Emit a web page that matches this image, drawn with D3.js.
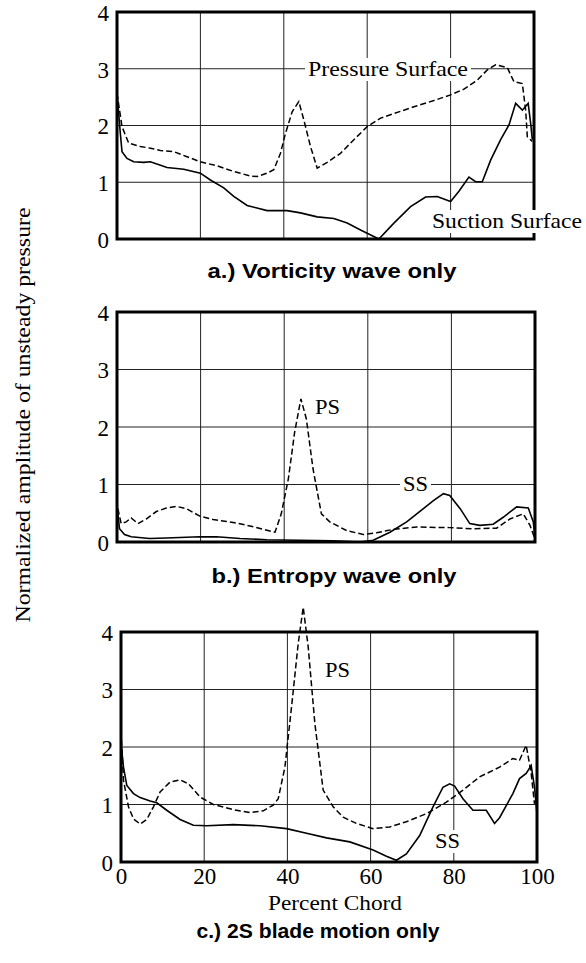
<!DOCTYPE html>
<html>
<head>
<meta charset="utf-8">
<script src="https://cdn.jsdelivr.net/npm/d3@7"></script>
<style>
  body { margin: 0; background: #fff; }
  svg { display: block; }
  .tick-label { font-family: "Liberation Serif", "Times New Roman", serif; font-size: 23px; fill: #000; }
  .serif { font-family: "Liberation Serif", "Times New Roman", serif; fill: #000; }
  .caption { font-family: "Liberation Sans", Arial, sans-serif; font-weight: bold; font-size: 21px; fill: #000; }
</style>
</head>
<body>
<script>
// tick labels
var yTicks = [0, 1, 2, 3, 4];
var xTicks = [0, 20, 40, 60, 80, 100];

// a.) vorticity wave - pressure surface (dashed)
var vortPS_x = [0, 1.2, 2.8, 5.6, 8, 10.4, 13.6, 16.8, 20, 24, 28, 32, 33.6, 36, 37.6, 39.2, 40.4, 42, 43.6, 44.8, 46.4, 48, 50.4, 53.6, 56.8, 60, 63.2, 66.4, 71.2, 76, 80, 83.2, 86.4, 88.8, 90.8, 93.6, 95.2, 97.2, 98, 98.4, 99.6];
var vortPS_y = [2.57, 1.98, 1.69, 1.63, 1.6, 1.56, 1.54, 1.45, 1.36, 1.29, 1.19, 1.11, 1.10, 1.16, 1.22, 1.51, 1.86, 2.24, 2.42, 2.10, 1.63, 1.25, 1.35, 1.51, 1.75, 1.98, 2.13, 2.21, 2.33, 2.44, 2.54, 2.64, 2.80, 2.98, 3.07, 3.02, 2.77, 2.74, 2.27, 1.80, 1.72];
// a.) vorticity wave - suction surface (solid)
var vortSS_x = [0, 0.8, 1.2, 2.4, 4, 6.4, 8, 12, 16, 20, 22.4, 25.6, 28, 31.2, 36, 40.8, 44, 48, 52, 55.2, 58.4, 62.8, 66.4, 70.4, 74, 76.8, 80, 82, 84.4, 86, 87.6, 89.6, 92, 94, 95.6, 97.2, 98.6, 99.2, 99.6];
var vortSS_y = [2.57, 1.86, 1.54, 1.42, 1.36, 1.35, 1.36, 1.26, 1.23, 1.16, 1.04, 0.90, 0.75, 0.59, 0.50, 0.50, 0.46, 0.39, 0.36, 0.28, 0.16, 0.0, 0.28, 0.57, 0.74, 0.75, 0.66, 0.84, 1.09, 1.01, 1.01, 1.39, 1.75, 2.01, 2.39, 2.27, 2.39, 2.04, 1.75];

// b.) entropy wave - PS (dashed)
var entPS_x = [0.2, 1, 2.2, 3.4, 5, 7, 9.4, 11.8, 14.2, 16.6, 19.8, 23, 27.8, 31.8, 35, 37.8, 39.3, 41, 42.5, 44, 45.3, 46.9, 48.9, 50.9, 54.9, 58.9, 62.1, 66.1, 71.7, 79.6, 85.2, 90.8, 94, 97.2, 98.8, 99.8];
var entPS_y = [0.58, 0.32, 0.35, 0.42, 0.32, 0.40, 0.53, 0.59, 0.62, 0.58, 0.45, 0.39, 0.34, 0.28, 0.22, 0.17, 0.49, 1.10, 1.91, 2.49, 2.14, 1.27, 0.49, 0.35, 0.20, 0.13, 0.16, 0.22, 0.26, 0.25, 0.23, 0.24, 0.40, 0.49, 0.29, 0.09];
// b.) entropy wave - SS (solid)
var entSS_x = [0, 0.6, 1.8, 3.4, 7.8, 11.8, 19.8, 23.8, 29.4, 35.8, 43.7, 51.7, 58.1, 61.3, 65.3, 69.3, 73.3, 75.7, 78.1, 79.6, 82.1, 84.4, 86.8, 90, 92.4, 95.6, 98.4, 99.6, 100];
var entSS_y = [0.64, 0.23, 0.13, 0.09, 0.06, 0.07, 0.09, 0.09, 0.06, 0.04, 0.03, 0.02, 0.0, 0.03, 0.17, 0.35, 0.58, 0.72, 0.84, 0.81, 0.58, 0.32, 0.29, 0.31, 0.43, 0.61, 0.59, 0.35, 0.06];

// c.) 2S blade motion - PS (dashed)
var bladePS_x = [0.1, 0.6, 1.8, 3, 4.6, 6.2, 7.8, 9.4, 11.8, 14.2, 16.2, 19, 22.2, 27, 31, 34.2, 36.6, 37.8, 39.4, 41, 42.6, 43.8, 45, 46.6, 48.6, 51, 53.4, 56.6, 60.6, 64.6, 68.6, 73.4, 78.2, 82.2, 86.2, 91, 94.2, 95.8, 97.4, 98.6, 99.4];
var bladePS_y = [2.12, 1.42, 0.96, 0.75, 0.66, 0.74, 0.96, 1.22, 1.39, 1.43, 1.36, 1.13, 1.00, 0.91, 0.86, 0.89, 0.99, 1.10, 1.65, 2.70, 3.80, 4.43, 3.74, 2.41, 1.25, 0.96, 0.78, 0.67, 0.58, 0.61, 0.70, 0.84, 1.04, 1.25, 1.48, 1.65, 1.80, 1.77, 2.03, 1.54, 1.01];
// c.) 2S blade motion - SS (solid)
var bladeSS_x = [0.1, 0.6, 1.4, 3, 4.6, 7, 8.6, 11, 14.2, 17.4, 20.6, 27, 33.4, 39.8, 44.6, 49.4, 55, 60.6, 63.8, 66.2, 68.6, 71.8, 75, 77.4, 79, 80.2, 82.2, 84.6, 87.8, 89.8, 91, 94.2, 95.8, 97.4, 98.6, 99.4, 100];
var bladeSS_y = [2.0, 1.65, 1.33, 1.19, 1.12, 1.06, 1.03, 0.90, 0.74, 0.64, 0.63, 0.65, 0.63, 0.58, 0.50, 0.42, 0.35, 0.21, 0.10, 0.03, 0.14, 0.46, 0.96, 1.30, 1.36, 1.32, 1.10, 0.90, 0.90, 0.67, 0.77, 1.19, 1.45, 1.54, 1.68, 1.30, 0.84];

var svgWidth = 586, svgHeight = 963;
var svg = d3.select('body').append('svg').attr('width', svgWidth).attr('height', svgHeight);

// panel boxes (pixel frames)
var panels = [
  {left: 117, right: 534, top: 12, bottom: 239,
   ps: [vortPS_x, vortPS_y], ss: [vortSS_x, vortSS_y]},
  {left: 117, right: 535, top: 312, bottom: 542,
   ps: [entPS_x, entPS_y], ss: [entSS_x, entSS_y]},
  {left: 121, right: 537, top: 632, bottom: 862,
   ps: [bladePS_x, bladePS_y], ss: [bladeSS_x, bladeSS_y]}
];

function zip(xs, ys) { return xs.map((x, i) => [x, ys[i]]); }

panels.forEach((p, i) => {
  var xScale = d3.scaleLinear().domain([0, 100]).range([p.left, p.right]);
  var yScale = d3.scaleLinear().domain([0, 4]).range([p.bottom, p.top]);
  p.x = xScale; p.y = yScale;
  var g = svg.append('g');

  // grid lines
  g.append('g').selectAll('line.h').data(yTicks.slice(1, 4)).enter().append('line')
    .attr('x1', p.left).attr('x2', p.right)
    .attr('y1', d => yScale(d)).attr('y2', d => yScale(d))
    .attr('stroke', '#222').attr('stroke-width', 1);
  g.append('g').selectAll('line.v').data(xTicks.slice(1, 5)).enter().append('line')
    .attr('y1', p.top).attr('y2', p.bottom)
    .attr('x1', d => xScale(d)).attr('x2', d => xScale(d))
    .attr('stroke', '#222').attr('stroke-width', 1);

  // frame
  g.append('rect').attr('x', p.left).attr('y', p.top)
    .attr('width', p.right - p.left).attr('height', p.bottom - p.top)
    .attr('fill', 'none').attr('stroke', '#000').attr('stroke-width', 3);

  // y axis ticks labels
  var leftAxis = d3.axisLeft(yScale).tickValues(yTicks).tickSize(0).tickPadding(8).tickFormat(d3.format('d'));
  var ax = g.append('g').attr('transform', `translate(${p.left},0)`).call(leftAxis);
  ax.select('.domain').remove();
  ax.selectAll('text').attr('class', 'tick-label').attr('font-size', null).attr('font-family', null).attr('dy', '0.36em');

  var line = d3.line().x(d => xScale(d[0])).y(d => yScale(d[1]));
  g.append('path').datum(zip(p.ss[0], p.ss[1])).attr('d', line)
    .attr('fill', 'none').attr('stroke', '#000').attr('stroke-width', 1.6);
  g.append('path').datum(zip(p.ps[0], p.ps[1])).attr('d', line)
    .attr('fill', 'none').attr('stroke', '#000').attr('stroke-width', 1.5)
    .attr('stroke-dasharray', '6,3');
});

// x axis under the last panel
var pc = panels[2];
var bottomAxis = d3.axisBottom(pc.x).tickValues(xTicks).tickSize(0).tickPadding(6);
var bx = svg.append('g').attr('transform', `translate(0,${pc.bottom})`).call(bottomAxis);
bx.select('.domain').remove();
bx.selectAll('text').attr('class', 'tick-label').attr('font-size', null).attr('font-family', null);

// labels with white backing
function label(x, y, txt, size, len) {
  var t = svg.append('text').attr('class', 'serif').attr('x', x).attr('y', y)
    .attr('font-size', size).text(txt);
  if (len) t.attr('textLength', len).attr('lengthAdjust', 'spacingAndGlyphs');
  var b = t.node().getBBox();
  svg.insert('rect', () => t.node()).attr('x', b.x - 3).attr('y', b.y + 2)
    .attr('width', b.width + 6).attr('height', b.height - 2).attr('fill', '#fff');
}
label(308, 76, 'Pressure Surface', 22, 160);
label(432, 228, 'Suction Surface', 22, 150);
label(315, 414, 'PS', 22, 25);
label(403, 491, 'SS', 22, 25);
label(325, 677, 'PS', 22, 25);
label(435, 848, 'SS', 22, 25);

// axis titles
svg.append('text').attr('class', 'serif').attr('font-size', 21)
  .attr('text-anchor', 'middle').attr('x', 335).attr('y', 910)
  .attr('textLength', 134).attr('lengthAdjust', 'spacingAndGlyphs').text('Percent Chord');
svg.append('text').attr('class', 'serif').attr('font-size', 21)
  .attr('text-anchor', 'middle')
  .attr('transform', 'translate(30,415) rotate(-90)')
  .attr('textLength', 415).attr('lengthAdjust', 'spacingAndGlyphs')
  .text('Normalized amplitude of unsteady pressure');

// captions
var captions = [
  {txt: 'a.) Vorticity wave only', x: 332, y: 278, len: 249},
  {txt: 'b.) Entropy wave only', x: 334, y: 583, len: 245},
  {txt: 'c.) 2S blade motion only', x: 318, y: 938, len: 243}
];
svg.selectAll('text.caption').data(captions).enter().append('text')
  .attr('class', 'caption').attr('text-anchor', 'middle')
  .attr('x', d => d.x).attr('y', d => d.y)
  .attr('textLength', d => d.len).attr('lengthAdjust', 'spacingAndGlyphs')
  .text(d => d.txt);
</script>
</body>
</html>
